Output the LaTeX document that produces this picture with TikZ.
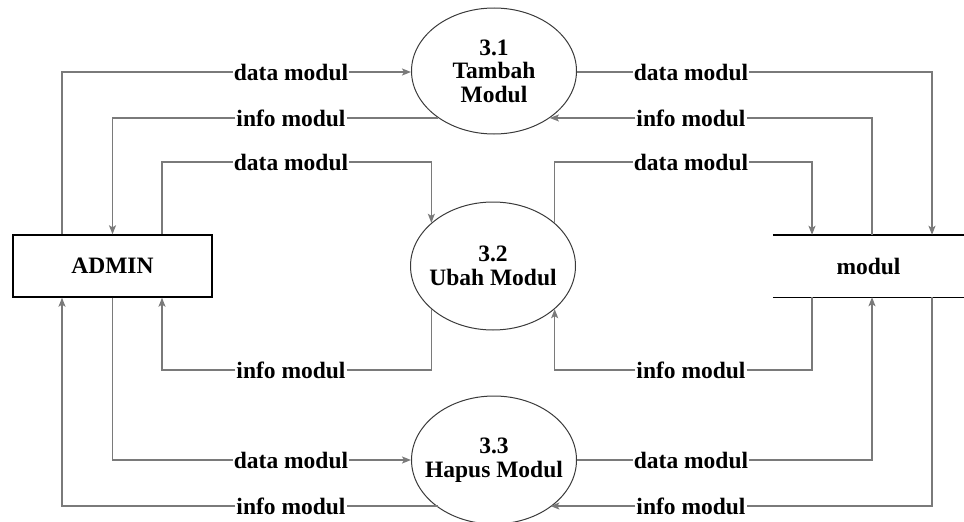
\documentclass[tikz,border=0pt]{standalone}
\usepackage{fontspec}
\setmainfont{Liberation Serif}
\usetikzlibrary{shapes.geometric}
\usetikzlibrary{arrows.meta}
\usepackage{xcolor}
\definecolor{flowgray}{HTML}{7A7A7A}
\definecolor{rimgray}{HTML}{3A3A3A}

\begin{document}
\begin{tikzpicture}[x=1pt, y=-1pt, font=\fontsize{23.5}{23.5}\selectfont\bfseries,
        proc/.style={ellipse, draw=rimgray, line width=1pt, minimum width=165, minimum height=126, align=center, inner xsep=-16pt, inner ysep=0pt},
        ent/.style={rectangle, draw=black, line width=1.4pt, minimum width=199, minimum height=62},
        store/.style={rectangle, minimum width=191, minimum height=62},
        lbl/.style={inner sep=1pt},
        flow/.style={draw=flowgray, line width=1.3pt, -{Stealth[length=9pt, width=7pt, inset=2pt]}}]
        \useasboundingbox (0,0) rectangle (964,522);

        \node[ent] (admin) at (112.5, 266) {ADMIN};
        \node[store] (modul) at (868.5, 266) {modul};
        \draw[line width=1.4pt] (modul.north west) -- (modul.north east);
        \draw[line width=1.4pt] (modul.south west) -- (modul.south east);

        \node[proc] (p1) at (494, 71) {3.1\\Tambah\\Modul};
        \node[proc, minimum height=128] (p2) at (493, 266) {3.2\\Ubah Modul};
        \node[proc, minimum height=128] (p3) at (494, 460) {3.3\\Hapus Modul};

        \coordinate (lc1) at (62, 0);
        \coordinate (lc3) at (162, 0);
        \coordinate (rc1) at (812, 0);
        \coordinate (rc2) at (872, 0);
        \coordinate (rc3) at (932, 0);

        \node[lbl] (ldA) at (291, 72) {data modul};
        \node[lbl] (liA) at (291, 118) {info modul};
        \node[lbl] (ldB) at (291, 162) {data modul};
        \node[lbl] (liB) at (291, 370) {info modul};
        \node[lbl] (ldC) at (291, 460) {data modul};
        \node[lbl] (liC) at (291, 506) {info modul};

        \node[lbl] (rdA) at (691, 72) {data modul};
        \node[lbl] (riA) at (691, 118) {info modul};
        \node[lbl] (rdB) at (691, 162) {data modul};
        \node[lbl] (riB) at (691, 370) {info modul};
        \node[lbl] (rdC) at (691, 460) {data modul};
        \node[lbl] (riC) at (691, 506) {info modul};

        \draw[flow] (admin.north -| lc1) |- (ldA) -- (ldA -| p1.west);
        \draw[flow] (liA -| p1.220) -- (liA) -| (admin.north);
        \draw[flow] (admin.north -| lc3) |- (ldB) -| (p2.145);
        \draw[flow] (p2.215) |- (liB) -| (admin.south -| lc3);
        \draw[flow] (admin.south) |- (ldC) -- (ldC -| p3.west);
        \draw[flow] (liC -| p3.220) -- (liC) -| (admin.south -| lc1);

        \draw[flow] (rdA -| p1.east) -- (rdA) -| (modul.north -| rc3);
        \draw[flow] (modul.north -| rc2) |- (riA) -- (riA -| p1.-40);
        \draw[flow] (p2.35) |- (rdB) -| (modul.north -| rc1);
        \draw[flow] (modul.south -| rc1) |- (riB) -| (p2.-35);
        \draw[flow] (rdC -| p3.east) -- (rdC) -| (modul.south -| rc2);
        \draw[flow] (modul.south -| rc3) |- (riC) -- (riC -| p3.-40);
    \end{tikzpicture}
\end{document}
